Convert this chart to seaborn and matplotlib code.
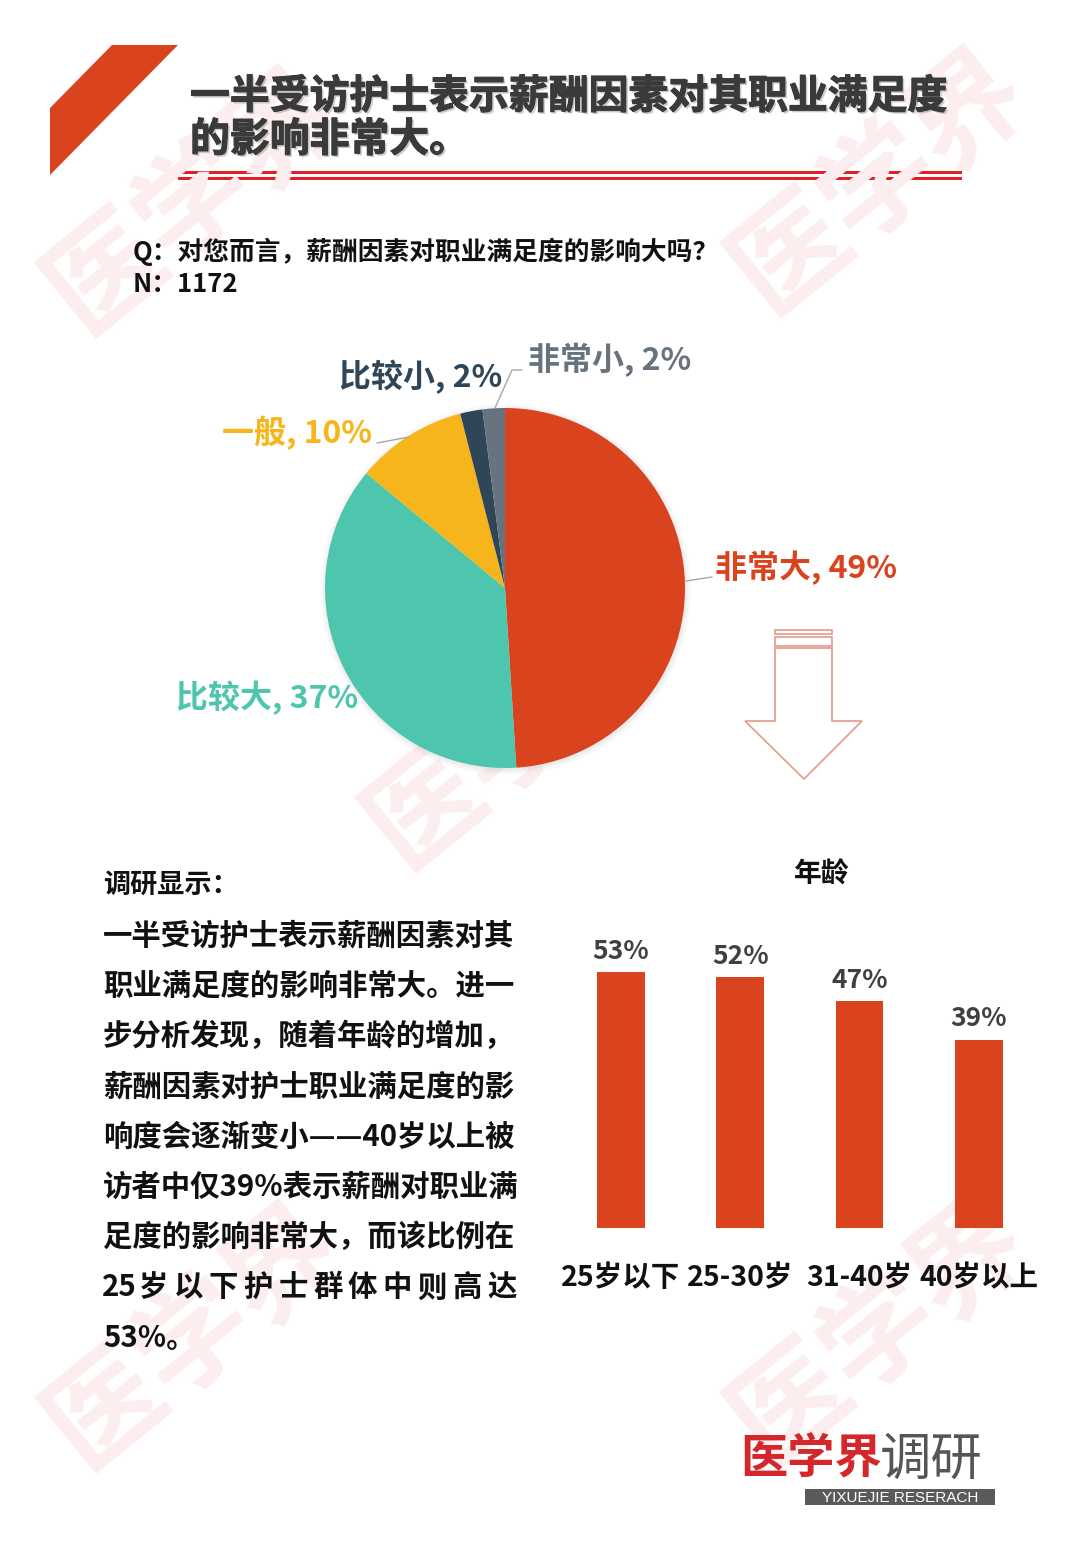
import matplotlib
matplotlib.use('Agg')
import matplotlib.pyplot as plt
import seaborn as sns
import pandas as pd
from matplotlib.patches import Polygon, Rectangle, Circle
import matplotlib.patheffects as pe

sns.set_theme(style='white')
plt.rcParams['font.family'] = ['Noto Sans CJK SC', 'DejaVu Sans']

# ---------------- data ----------------
pie_labels = ['非常大', '比较大', '一般', '比较小', '非常小']
pie_values = [49, 37, 10, 2, 2]
pie_colors = ['#D9431E', '#4EC5AD', '#F6B51B', '#2E4658', '#67737E']

age_groups = ['25岁以下', '25-30岁', '31-40岁', '40岁以上']
age_values = [53, 52, 47, 39]

title_lines = ['一半受访护士表示薪酬因素对其职业满足度', '的影响非常大。']
question = 'Q：对您而言，薪酬因素对职业满足度的影响大吗？'
sample = 'N：1172'
body_head = '调研显示：'
body_lines = ['一半受访护士表示薪酬因素对其',
              '职业满足度的影响非常大。进一',
              '步分析发现，随着年龄的增加，',
              '薪酬因素对护士职业满足度的影',
              '响度会逐渐变小——40岁以上被',
              '访者中仅39%表示薪酬对职业满',
              '足度的影响非常大，而该比例在']
body_spread = ['25', '岁', '以', '下', '护', '士', '群', '体', '中', '则', '高', '达']
body_last = '53%。'

W, H = 1080, 1560
fig = plt.figure(figsize=(10.8, 15.6), dpi=100)
fig.patch.set_facecolor('white')

# background / decoration layer in pixel coords
bg = fig.add_axes([0, 0, 1, 1], zorder=0)
bg.set_xlim(0, W); bg.set_ylim(H, 0); bg.axis('off')

# watermarks
for (cx, cy) in [(195, 200), (880, 180), (515, 735), (880, 1330), (195, 1335)]:
    bg.text(cx, cy, '医学界', fontsize=82, fontweight='bold', color='#FCEEEE',
            rotation=39, ha='center', va='center', rotation_mode='anchor')

# red corner band
bg.add_patch(Polygon([(112, 45), (178, 45), (50, 175), (50, 108)],
                     closed=True, facecolor='#D9431E', edgecolor='none'))
# title
for i, line in enumerate(title_lines):
    bg.text(190, 97 + i * 43, line, fontsize=28.7, fontweight='black', color='#3A3A3A',
            ha='left', va='center',
            path_effects=[pe.withSimplePatchShadow(offset=(1.5, -1.5), shadow_rgbFace='#999999', alpha=0.5),
                          pe.withStroke(linewidth=0.8, foreground='#3A3A3A')])
# double red rule
bg.add_patch(Rectangle((178, 170.5), 784, 3.5, facecolor='#E31E24', edgecolor='none'))
bg.add_patch(Rectangle((178, 176.5), 784, 3.5, facecolor='#E31E24', edgecolor='none'))

# question
bg.text(133, 252, question, fontsize=18.5, fontweight='bold', color='#111111', ha='left', va='center')
bg.text(133, 285, sample, fontsize=18.5, fontweight='bold', color='#111111', ha='left', va='center')

# arrow outline
ac = '#E59A8A'
bg.add_patch(Rectangle((775, 630), 57, 4, facecolor='none', edgecolor=ac, lw=1.2))
bg.add_patch(Rectangle((775, 637), 57, 8.5, facecolor='none', edgecolor=ac, lw=1.2))
bg.add_patch(Polygon([(775, 648), (832, 648), (832, 721), (862, 721), (804, 779),
                      (745, 721), (775, 721)], closed=True, facecolor='none', edgecolor=ac, lw=1.2))

# body text
body_fs = 21.2
bg.text(103, 885, body_head, fontsize=19.5, fontweight='bold', color='#111111', ha='left', va='center')
for i, line in enumerate(body_lines):
    bg.text(103, 936 + i * 50.2, line, fontsize=body_fs, fontweight='bold', color='#111111',
            ha='left', va='center')
n = len(body_spread)
y8 = 936 + 7 * 50.2
for j, tok in enumerate(body_spread):
    xc = 119 + j * (502 - 119) / (n - 1)
    bg.text(xc, y8, tok, fontsize=body_fs, fontweight='bold', color='#111111',
            ha='center', va='center')
bg.text(103, 936 + 8 * 50.2, body_last, fontsize=body_fs, fontweight='bold', color='#111111',
        ha='left', va='center')

# logo
bg.text(740, 1460, '医学界', fontsize=34, fontweight='black', color='#D5262B', ha='left', va='center')
bg.text(880, 1460, '调研', fontsize=37, fontweight='normal', color='#555555', ha='left', va='center')
bg.add_patch(Rectangle((805, 1489), 190, 16, facecolor='#5A5A5A', edgecolor='none'))
bg.text(900, 1497.5, 'YIXUEJIE RESERACH', fontsize=11, color='white', ha='center', va='center',
        family=['Liberation Sans', 'DejaVu Sans'])

# ---------------- pie ----------------
R = 180.0
cxp, cyp = 505, 588
pax = fig.add_axes([(cxp - 2 * R) / W, (H - cyp - 2 * R) / H, 4 * R / W, 4 * R / H], zorder=2)
# soft shadow
for k, a in [(1.03, 0.035), (1.018, 0.05), (1.007, 0.07)]:
    pax.add_patch(Circle((0.004, -0.008), k, facecolor='#888888', edgecolor='none', alpha=a))
pax.pie(pie_values, colors=pie_colors, startangle=90, counterclock=False, radius=1,
        wedgeprops=dict(linewidth=0))
pax.set_xlim(-2, 2); pax.set_ylim(-2, 2); pax.set_aspect('equal'); pax.axis('off')

def u(px_x, px_y):
    return ((px_x - cxp) / R, (cyp - px_y) / R)

lab_fs = 23
lab = [
    (f'{pie_labels[0]}, {pie_values[0]}%', u(715, 568), 'left', pie_colors[0]),
    (f'{pie_labels[1]}, {pie_values[1]}%', u(358, 698), 'right', pie_colors[1]),
    (f'{pie_labels[2]}, {pie_values[2]}%', u(372, 433), 'right', pie_colors[2]),
    (f'{pie_labels[3]}, {pie_values[3]}%', u(502, 377), 'right', pie_colors[3]),
    (f'{pie_labels[4]}, {pie_values[4]}%', u(528, 360), 'left', pie_colors[4]),
]
for t, (x, y), ha, c in lab:
    pax.text(x, y, t, fontsize=lab_fs, fontweight='bold', color=c, ha=ha, va='center')
# leader lines
lc = '#A6A6A6'
for pts in [[(686, 581), (712, 577)], [(409, 437), (377, 443)],
            [(495, 408), (512, 370), (522, 370)]]:
    xs, ys = zip(*[u(*p) for p in pts])
    pax.plot(xs, ys, color=lc, lw=1)

# ---------------- bars ----------------
step = 119.3
left_px = 621 - 0.5 * step
bot_px = 1228
ppu = 4.83
bax = fig.add_axes([left_px / W, (H - bot_px) / H, 4 * step / W, 60 * ppu / H], zorder=2)
df = pd.DataFrame({'age': age_groups, 'value': age_values})
sns.barplot(data=df, x='age', y='value', color='#D9431E', saturation=1, width=0.40, ax=bax)
bax.set_xlim(-0.5, 3.5); bax.set_ylim(0, 60)
for c in bax.patches:
    c.set_facecolor('#D9431E'); c.set_edgecolor('none')
for s in bax.spines.values():
    s.set_visible(False)
bax.set_yticks([]); bax.set_ylabel(''); bax.set_xlabel('')
bax.tick_params(axis='x', length=0, pad=26)
bax.set_xticks(range(len(age_groups)))
bax.set_xticklabels(age_groups, fontsize=20.5, fontweight='bold', color='#111111')
for i, v in enumerate(age_values):
    bax.text(i, v + 1.5, f'{v}%', fontsize=19, fontweight='bold', color='#404040',
             ha='center', va='bottom')
bax.patch.set_alpha(0)
bg.text(822, 875, '年龄', fontsize=20, fontweight='bold', color='#111111', ha='center', va='center')

fig.savefig('out.png', dpi=100, facecolor='white')
